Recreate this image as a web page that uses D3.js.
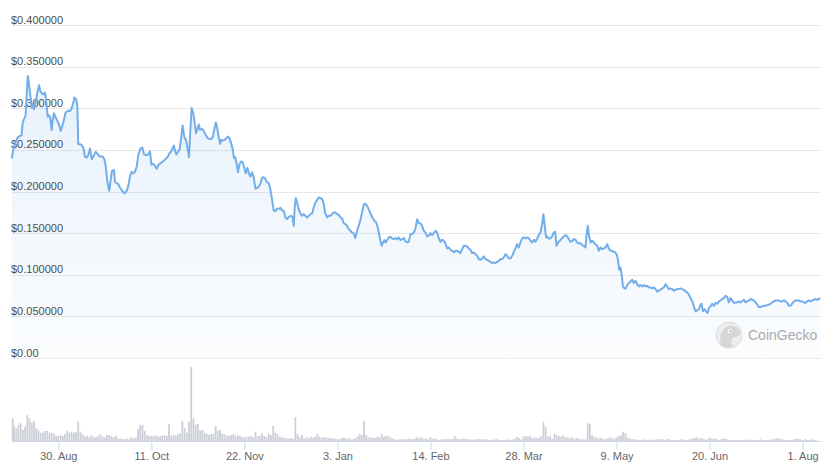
<!DOCTYPE html>
<html>
<head>
<meta charset="utf-8">
<script src="https://cdn.jsdelivr.net/npm/d3@7"></script>
<style>
  html, body { margin: 0; padding: 0; background: #fff; }
  svg { display: block; font-family: "Liberation Sans", Arial, Helvetica, sans-serif; }
</style>
</head>
<body>
<svg id="chart" width="834" height="471"></svg>
<script>
// ---------------- DATA ----------------
const startDate = "2022-08-09";
const endDate = "2023-08-09";

// days since startDate
const priceDay = [
0,0.7,1.7,2.6,3.7,4.4,4.9,5.6,6.2,6.7,7.2,7.8,8.4,9.0,9.4,10.0,10.8,11.4,12.3,12.9,13.5,14.2,15.0,15.6,16.2,16.8,17.4,18.0,18.4,19.0,19.8,20.6,21.3,22.1,22.8,23.6,24.3,25.2,26.3,27.0,27.8,28.2,29.0,29.6,30.0,30.8,31.5,32.3,33.0,33.8,34.5,35.3,36.1,36.8,37.9,38.8,39.8,41.0,41.8,42.4,43.0,43.6,44.0,44.6,45.2,46.1,46.6,47.3,48.1,48.8,49.6,50.8,51.9,52.6,53.4,54.1,54.9,55.6,56.4,57.1,58.0,58.9,59.7,60.9,
61.5,62.4,63.0,63.9,64.8,65.4,66.3,67.2,68.1,69.0,69.9,70.5,71.1,71.7,72.3,73.1,73.5,74.3,75.0,75.8,76.5,77.1,77.9,78.7,79.4,80.0,80.6,81.2,82.0,82.6,83.2,83.8,84.4,85.0,85.9,86.6,87.4,88.3,89.2,90.1,90.8,91.4,92.1,92.7,93.3,94.0,94.6,95.4,96.1,96.9,97.6,98.4,99.1,99.7,100.3,100.9,101.5,102.1,102.7,103.5,104.2,104.8,105.6,106.4,107.1,107.7,108.5,109.2,110.0,110.7,111.5,112.2,113.0,113.7,114.5,115.1,116.0,116.7,117.5,118.2,119.0,119.7,120.5,121.3,122.0,
122.8,123.5,124.3,125.0,126.1,126.7,127.3,127.7,128.2,128.8,129.5,130.3,131.0,131.8,132.5,133.3,134.1,134.8,135.6,136.3,137.1,137.8,138.6,139.3,140.1,140.8,141.4,142.3,143.1,143.8,144.6,145.3,146.1,146.8,147.6,148.4,149.1,149.9,150.6,151.4,152.1,152.9,153.6,154.4,155.1,155.9,156.6,157.4,158.1,158.9,159.6,160.4,161.1,161.9,162.8,163.7,164.5,165.2,166.0,166.4,167.0,167.6,168.2,168.8,169.4,170.2,170.9,171.7,172.4,173.2,173.9,174.7,175.4,176.2,177.0,177.7,178.5,179.2,180.0,180.7,181.5,
182.2,183.0,183.7,184.5,185.2,186.0,186.7,187.5,188.2,189.0,189.7,190.5,191.3,192.0,192.8,193.5,194.3,195.0,195.8,196.5,197.3,198.0,198.8,199.5,200.3,201.0,201.8,202.5,203.3,204.1,204.8,205.6,206.3,207.1,207.8,208.6,209.3,210.1,210.8,211.6,212.3,213.1,213.8,214.6,215.3,216.1,216.8,217.6,218.4,219.1,219.9,220.6,221.4,222.1,222.9,223.6,224.4,225.1,225.9,226.6,227.4,228.1,228.9,229.6,230.4,231.1,231.9,232.7,233.4,234.2,234.9,235.7,236.4,237.2,237.9,238.7,239.4,240.0,240.6,241.2,241.8,242.4,
243.2,243.9,244.7,245.3,245.9,246.6,247.4,248.3,249.2,250.1,250.7,251.5,252.2,253.0,253.7,254.5,255.2,256.0,256.7,257.5,258.2,259.0,259.4,260.0,260.6,261.3,262.0,262.8,263.5,264.3,265.0,265.8,266.5,267.3,268.0,268.8,269.5,270.3,271.0,271.8,272.5,273.3,273.7,274.2,274.8,275.3,275.9,276.6,277.2,277.8,278.6,279.3,280.1,280.8,281.6,282.3,283.1,283.8,284.6,285.3,286.1,286.8,287.6,288.3,289.1,289.9,290.6,291.4,292.1,292.9,293.6,294.4,295.1,295.9,296.6,297.4,298.1,298.9,299.6,300.4,301.1,301.9,302.6,303.4,
304.2,304.9,305.7,306.4,307.2,307.9,308.7,309.4,310.2,310.9,311.4,312.0,312.7,313.5,314.1,314.7,315.4,316.2,317.0,317.7,318.5,319.2,320.0,320.7,321.5,322.2,323.0,323.7,324.5,325.2,326.0,326.7,327.5,328.2,329.0,329.7,330.5,331.3,332.0,332.8,333.5,334.3,335.0,335.8,336.5,337.3,338.0,338.8,339.5,340.3,341.0,341.8,342.5,343.3,344.0,344.8,345.5,346.3,347.1,347.8,348.6,349.3,350.1,350.8,351.6,352.3,353.1,353.8,354.6,355.3,356.1,356.8,357.6,358.3,359.1,359.9,360.6,361.4,362.1,362.9,363.6,364.4,365.0
];

// price in USD
const priceUsd = [
0.2396,0.2508,0.2588,0.2648,0.2668,0.2676,0.2828,0.2876,0.2908,0.3148,0.3388,0.3288,0.3148,0.3008,0.3048,0.2988,0.3088,0.3168,0.3276,0.3208,0.3180,0.3168,0.3188,0.3068,0.2900,0.2916,0.2876,0.2740,0.2848,0.2940,0.2888,0.2848,0.2808,0.2728,0.2788,0.2868,0.2948,0.2968,0.2968,0.2996,0.3068,0.3128,0.3108,0.3028,0.2568,0.2568,0.2556,0.2528,0.2420,0.2408,0.2436,0.2516,0.2388,0.2420,0.2476,0.2448,0.2420,0.2420,0.2388,0.2308,0.2148,0.2048,0.2008,0.2128,0.2248,0.2260,0.2116,0.2100,0.2088,0.2048,0.2020,0.1976,0.2008,0.2068,0.2188,0.2236,0.2220,0.2236,0.2300,0.2436,0.2516,0.2528,0.2448,0.2436,
0.2444,0.2484,0.2324,0.2332,0.2300,0.2272,0.2324,0.2340,0.2356,0.2380,0.2404,0.2420,0.2460,0.2472,0.2500,0.2552,0.2512,0.2444,0.2472,0.2512,0.2652,0.2792,0.2652,0.2612,0.2512,0.2412,0.2732,0.3004,0.2932,0.2812,0.2700,0.2752,0.2804,0.2740,0.2752,0.2732,0.2684,0.2644,0.2632,0.2632,0.2660,0.2740,0.2828,0.2772,0.2672,0.2572,0.2620,0.2612,0.2620,0.2644,0.2660,0.2632,0.2572,0.2512,0.2404,0.2412,0.2332,0.2232,0.2324,0.2360,0.2352,0.2300,0.2220,0.2284,0.2212,0.2180,0.2232,0.2172,0.2032,0.2044,0.2060,0.2092,0.2164,0.2172,0.2152,0.2112,0.2100,0.2032,0.1900,0.1772,0.1764,0.1792,0.1792,0.1804,0.1772,
0.1768,0.1688,0.1668,0.1696,0.1708,0.1696,0.1588,0.1808,0.1920,0.1868,0.1788,0.1736,0.1708,0.1728,0.1708,0.1688,0.1708,0.1728,0.1736,0.1808,0.1868,0.1896,0.1928,0.1920,0.1908,0.1856,0.1748,0.1688,0.1708,0.1708,0.1728,0.1748,0.1748,0.1728,0.1720,0.1688,0.1680,0.1616,0.1608,0.1588,0.1548,0.1528,0.1508,0.1496,0.1440,0.1528,0.1588,0.1656,0.1748,0.1840,0.1856,0.1828,0.1788,0.1736,0.1688,0.1648,0.1628,0.1568,0.1468,0.1408,0.1348,0.1388,0.1416,0.1388,0.1416,0.1448,0.1456,0.1436,0.1428,0.1440,0.1428,0.1448,0.1416,0.1428,0.1440,0.1400,0.1388,0.1396,0.1488,0.1488,0.1508,
0.1548,0.1668,0.1620,0.1620,0.1588,0.1528,0.1508,0.1460,0.1468,0.1500,0.1476,0.1500,0.1528,0.1508,0.1436,0.1396,0.1420,0.1408,0.1380,0.1316,0.1328,0.1300,0.1288,0.1268,0.1288,0.1288,0.1276,0.1260,0.1308,0.1348,0.1348,0.1340,0.1316,0.1300,0.1260,0.1268,0.1248,0.1228,0.1188,0.1180,0.1196,0.1220,0.1188,0.1180,0.1168,0.1156,0.1140,0.1148,0.1140,0.1156,0.1168,0.1188,0.1188,0.1208,0.1248,0.1228,0.1196,0.1196,0.1228,0.1276,0.1316,0.1368,0.1328,0.1388,0.1436,0.1448,0.1436,0.1448,0.1436,0.1408,0.1388,0.1420,0.1396,0.1436,0.1476,0.1508,0.1608,0.1728,0.1588,0.1448,0.1460,0.1436,
0.1436,0.1460,0.1508,0.1516,0.1348,0.1388,0.1408,0.1436,0.1460,0.1476,0.1460,0.1428,0.1396,0.1404,0.1428,0.1420,0.1388,0.1376,0.1380,0.1356,0.1348,0.1328,0.1460,0.1588,0.1468,0.1388,0.1408,0.1388,0.1368,0.1348,0.1288,0.1328,0.1308,0.1316,0.1328,0.1368,0.1316,0.1288,0.1288,0.1276,0.1268,0.1228,0.1168,0.1060,0.1088,0.1008,0.0860,0.0836,0.0836,0.0876,0.0900,0.0916,0.0940,0.0900,0.0928,0.0888,0.0860,0.0876,0.0860,0.0876,0.0860,0.0868,0.0848,0.0848,0.0836,0.0848,0.0828,0.0796,0.0808,0.0820,0.0836,0.0848,0.0888,0.0860,0.0828,0.0836,0.0828,0.0808,0.0820,0.0828,0.0828,0.0836,0.0828,0.0820,
0.0800,0.0788,0.0760,0.0720,0.0680,0.0620,0.0560,0.0572,0.0588,0.0640,0.0652,0.0560,0.0588,0.0560,0.0540,0.0600,0.0620,0.0652,0.0628,0.0660,0.0652,0.0680,0.0692,0.0708,0.0720,0.0748,0.0732,0.0668,0.0720,0.0692,0.0660,0.0668,0.0668,0.0680,0.0668,0.0680,0.0700,0.0668,0.0680,0.0692,0.0708,0.0700,0.0692,0.0668,0.0640,0.0612,0.0612,0.0620,0.0628,0.0628,0.0636,0.0640,0.0652,0.0668,0.0680,0.0692,0.0692,0.0692,0.0680,0.0680,0.0692,0.0680,0.0660,0.0628,0.0628,0.0652,0.0680,0.0692,0.0692,0.0692,0.0680,0.0680,0.0668,0.0660,0.0680,0.0692,0.0680,0.0692,0.0700,0.0708,0.0700,0.0708,0.0720
];

// daily volume (relative, one value per day starting at startDate)
const volume = [
22.7,16,12.7,16,17.7,11,14.3,26,22.7,18.3,20,12.7,11,8.3,8.3,10,10,8.3,8.3,7,5,5,6,5,7,10.3,8.3,9.3,8.3,9.3,19.3,9.3,7,4.3,5,3.7,5.7,3.7,3.7,5,7,4.3,3.7,6,6,5,3.7,5,2.3,2.3,2.3,1.7,2.3,1.7,3.7,2.7,3.7,11.7,16,16,10.3,6,5,5,5,5.7,4.3,5,5.7,5.7,5,17,5.7,5.7,5.7,7,7.7,20,12.7,8.3,19.3,74.3,22.7,16,17,10.3,11,8.3,7,6,7,7,15,10.3,11,7,7,5.7,5,6,7,5,5.7,5,3.7,3.7,4.3,4.3,5,3.7,9.3,5,5,7.7,5,4.3,7.7,6,15,8.3,7,4.3,3.7,3,3,2.3,3,2.3,23.7,7,3.7,6,2.3,3.7,3,4.3,3,4.3,7,4.3,3,3.7,3.7,3,3,2.3,2.3,2.3,1.7,3,3.7,2.3,3,1.7,1.7,2.3,4.3,7,6,20,6,3.7,3.7,3,3,4.3,3.7,7,4.3,5,5,3.7,2.3,1.7,1,1.7,1.7,1.7,1.7,2.3,2.3,1.7,2.3,3.7,
2.7,3.7,2.3,2.3,1.7,3.7,2.3,2.3,1.7,1,1.7,1.7,1.7,2.3,1.7,2.3,5,2.3,1.7,2.3,2.3,2.3,1.7,1.7,1,1.7,1.7,1.7,1.7,1.7,1.7,1,1,1,1.7,1.7,1,1,1,1,1.7,1,1.7,2.3,4.3,3,1.7,4.3,5,4.3,5,3,3.7,3,3,5,19,14.3,4.3,5,2.3,7,5.7,5,4.3,5.7,3.7,3.7,2.3,3.7,2.3,3,2.3,1.7,1.7,1.7,17.7,17,5.7,3.7,3.7,2.3,3,2.3,1.7,3,3.7,2.3,2.3,3.7,5,6,9.3,7.7,3.7,2.3,1.7,1.7,1.7,1,1,1.7,1,1,1.7,1,1,1.7,2.3,1.7,1.7,1,2.3,1.7,1,1,1,1,1.7,1.7,1,1,1.7,2.3,3,3.7,2.3,3,2.3,1.7,1.7,3.7,2.3,2.3,2.3,1,1.7,2.3,2.3,1.7,1,1,1,1,1,1,1,1,1,1.7,1,1,1,1,1.7,1,1,1,1,1.7,1.7,2.3,3,1.7,1.7,1,1,1,1,1.7,2.3,2.3,1.7,1,1.7,1,1,1.7,1,1
];

const xTickDates = ["2022-08-30","2022-10-11","2022-11-22","2023-01-03","2023-02-14","2023-03-28","2023-05-09","2023-06-20","2023-08-01"];
const xTickLabels = ["30. Aug","11. Oct","22. Nov","3. Jan","14. Feb","28. Mar","9. May","20. Jun","1. Aug"];
const yTicks = [0, 0.05, 0.10, 0.15, 0.20, 0.25, 0.30, 0.35, 0.40];
const yTickLabels = ["$0.00","$0.050000","$0.100000","$0.150000","$0.200000","$0.250000","$0.300000","$0.350000","$0.400000"];

// ---------------- CHART ----------------
const DAY = 86400000;
const t0 = new Date(startDate + "T00:00:00Z").getTime();
const toDate = d => new Date(t0 + d * DAY);

const svg = d3.select("#chart");
const plotLeft = 11.8, plotRight = 820.3;

const x = d3.scaleUtc()
  .domain([new Date(startDate + "T00:00:00Z"), new Date(endDate + "T00:00:00Z")])
  .range([plotLeft, plotRight]);
const y = d3.scaleLinear().domain([0, 0.4]).range([358, 25]);
const yVol = d3.scaleLinear().domain([0, 75]).range([441, 366]);

const defs = svg.append("defs");
const grad = defs.append("linearGradient")
  .attr("id", "areaGrad").attr("gradientUnits", "userSpaceOnUse")
  .attr("x1", 0).attr("y1", y(0.34)).attr("x2", 0).attr("y2", y(0));
grad.append("stop").attr("offset", "0%").attr("stop-color", "#72aeea").attr("stop-opacity", 0.17);
grad.append("stop").attr("offset", "100%").attr("stop-color", "#72aeea").attr("stop-opacity", 0.03);

// gridlines
svg.append("g").selectAll("line").data(yTicks).join("line")
  .attr("x1", plotLeft).attr("x2", plotRight + 1)
  .attr("y1", d => Math.round(y(d)) + 0.5).attr("y2", d => Math.round(y(d)) + 0.5)
  .attr("stroke", "#e8e8e8").attr("stroke-width", 1);

const pts = priceDay.map((d, i) => ({ date: toDate(d), v: priceUsd[i] }));

// area
svg.append("path").datum(pts)
  .attr("fill", "url(#areaGrad)")
  .attr("d", d3.area().x(d => x(d.date)).y0(y(0)).y1(d => y(d.v)));

// y labels
svg.append("g").selectAll("text").data(yTicks).join("text")
  .attr("x", 11).attr("y", d => y(d) - 1.5)
  .attr("font-size", 11).attr("fill", "#4d4d4d")
  .text((d, i) => yTickLabels[i]);

// line
svg.append("path").datum(pts)
  .attr("fill", "none").attr("stroke", "#72aeea").attr("stroke-width", 2)
  .attr("stroke-linejoin", "round")
  .attr("d", d3.line().x(d => x(d.date)).y(d => y(d.v)));

// volume bars
svg.append("g").selectAll("rect").data(volume).join("rect")
  .attr("x", (v, i) => Math.max(plotLeft, x(toDate(i)) - 0.9))
  .attr("width", 1.8)
  .attr("y", v => yVol(v))
  .attr("height", v => yVol(0) - yVol(v))
  .attr("fill", "#cdd0d8");

// x axis
const xAxis = d3.axisBottom(x)
  .tickValues(xTickDates.map(s => new Date(s + "T00:00:00Z")))
  .tickFormat((d, i) => xTickLabels[i])
  .tickSizeInner(9).tickSizeOuter(0).tickPadding(2);
const gx = svg.append("g").attr("transform", "translate(0,441)").call(xAxis);
gx.select(".domain").attr("stroke", "#ccd6eb");
gx.selectAll(".tick line").attr("stroke", "#ccd6eb");
gx.selectAll(".tick text").attr("fill", "#666").attr("font-size", 11)
  .attr("font-family", "'Liberation Sans', Arial, Helvetica, sans-serif");

// watermark
const wm = svg.append("g").attr("opacity", 0.9);
wm.append("circle").attr("cx", 729).attr("cy", 335).attr("r", 13)
  .attr("fill", "#ececec").attr("stroke", "#d9d9d9").attr("stroke-width", 1);
wm.append("path")
  .attr("d", "M721,346 C719,338 720,328 729,326 C735,325 739,328 740,332 C741,335 738,337 734,337 C731,338 731,342 733,347 C729,348 724,348 721,346 Z")
  .attr("fill", "#d2d2d2");
wm.append("circle").attr("cx", 730).attr("cy", 331).attr("r", 2.2).attr("fill", "#fafafa");
wm.append("circle").attr("cx", 730.4).attr("cy", 331).attr("r", 1).attr("fill", "#9a9a9a");
wm.append("text").attr("x", 748).attr("y", 340)
  .attr("font-size", 14).attr("fill", "#a3a3a3")
  .text("CoinGecko");
</script>
</body>
</html>
